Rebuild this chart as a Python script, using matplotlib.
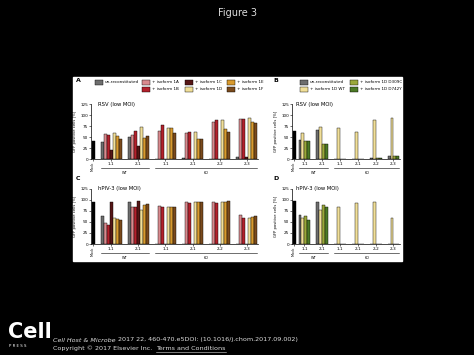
import numpy as np
import matplotlib
matplotlib.use("Agg")
import matplotlib.pyplot as plt
from matplotlib.patches import Rectangle

groups = ["1-1", "2-1", "1-1", "2-1", "2-2", "2-3"]

# panel A / C series (RSV, hPIV-3), per group
series_ac = ["un-reconstituted", "+ isoform 1A", "+ isoform 1B", "+ isoform 1C",
             "+ isoform 1D", "+ isoform 1E", "+ isoform 1F"]
colors_ac = ["#6e6e6e", "#d98a8e", "#b3212c", "#561616", "#f1df98", "#d99a2e", "#7a4a1c"]
mock_a = 40
rsv_a = [
    [38, 49, 1, 2, 1, 5],
    [57, 55, 64, 60, 84, 92],
    [55, 64, 77, 62, 88, 92],
    [21, 30, 0, 0, 0, 4],
    [59, 73, 71, 61, 89, 93],
    [52, 48, 70, 46, 68, 83],
    [46, 52, 59, 46, 61, 81],
]
mock_c = 95
piv_c = [
    [64, 96, 0, 0, 0, 0],
    [48, 83, 87, 96, 95, 67],
    [43, 83, 85, 93, 93, 59],
    [95, 98, 0, 0, 0, 0],
    [58, 78, 84, 95, 95, 58],
    [57, 88, 85, 95, 95, 61],
    [55, 92, 85, 95, 97, 64],
]

# panel B / D series
series_bd = ["un-reconstituted", "+ isoform 1D WT", "+ isoform 1D D309C", "+ isoform 1D D742Y"]
colors_bd = ["#6e6e6e", "#f1df98", "#9aa83a", "#4c7a26"]
mock_b = 64
rsv_b = [
    [44, 67, 0, 1, 2, 7],
    [59, 73, 71, 61, 89, 93],
    [42, 35, 1, 1, 2, 6],
    [41, 33, 1, 1, 2, 6],
]
mock_d = 98
piv_d = [
    [65, 95, 1, 1, 1, 1],
    [58, 78, 83, 94, 95, 58],
    [63, 89, 1, 1, 1, 1],
    [55, 85, 1, 1, 1, 1],
]

W, H = 474, 355
fig = plt.figure(figsize=(4.74, 3.55), dpi=100)
fig.patch.set_facecolor("black")
fig.patches.append(Rectangle((73 / W, 1 - 261 / H), 329 / W, 184 / H,
                             transform=fig.transFigure, color="white", zorder=-10))

fs = 3


def px(x0, y_top, x1, y_bot):
    return [x0 / W, 1 - y_bot / H, (x1 - x0) / W, (y_bot - y_top) / H]


def panel(rect, mock, vals, colors, title, pitch):
    ax = fig.add_axes(rect)
    ax.patch.set_alpha(0)
    nser = len(vals)
    first = 3 if nser == 7 else 2
    ax.bar(0, mock, width=1, color="black", edgecolor="black", linewidth=0.3)
    starts = first + pitch * np.arange(len(groups))
    for i, v in enumerate(vals):
        ax.bar(starts + i, v, width=1, color=colors[i], edgecolor="black", linewidth=0.3)
    centers = starts + (nser - 1) / 2
    ax.set_xlim(-0.7, starts[-1] + nser - 0.3)
    ax.set_ylim(0, 125)
    ax.set_yticks([0, 25, 50, 75, 100, 125])
    ax.set_xticks(np.r_[0, centers])
    ax.set_xticklabels([""] + groups)
    ax.tick_params(labelsize=fs, length=1.2, width=0.4, pad=1)
    ax.text(0, -0.05, "Mock", rotation=90, fontsize=fs - 0.5, ha="center", va="top",
            transform=ax.get_xaxis_transform())
    for s in ["top", "right"]:
        ax.spines[s].set_visible(False)
    for s in ["left", "bottom"]:
        ax.spines[s].set_linewidth(0.5)
    ax.set_ylabel("GFP positive cells [%]", fontsize=fs - 0.3, labelpad=2)
    ax.text(0.04, 1.0, title, fontsize=fs + 0.8, transform=ax.transAxes, va="center")
    tr = ax.get_xaxis_transform()
    wt = (starts[0] - 0.5, starts[1] + nser - 0.5)
    ko = (starts[2] - 0.5, starts[-1] + nser - 0.5)
    for (a, b), lab in [(wt, "WT"), (ko, "KO")]:
        ax.plot([a, b], [-0.17, -0.17], color="black", lw=0.4, transform=tr, clip_on=False)
        ax.text((a + b) / 2, -0.21, lab, fontsize=fs - 0.5, ha="center", va="top", transform=tr)
    return ax


axA = panel(px(91, 104, 258, 159), mock_a, rsv_a, colors_ac, "RSV (low MOI)", 9)
axB = panel(px(292, 104, 400, 159), mock_b, rsv_b, colors_bd, "RSV (low MOI)", 6)
axC = panel(px(91, 189, 258, 244), mock_c, piv_c, colors_ac, "hPIV-3 (low MOI)", 9)
axD = panel(px(292, 189, 400, 244), mock_d, piv_d, colors_bd, "hPIV-3 (low MOI)", 6)

for lab, x, y in [("A", 76, 81), ("B", 273, 81), ("C", 76, 178), ("D", 273, 178)]:
    fig.text(x / W, 1 - y / H, lab, fontsize=4.5, fontweight="bold", va="center")


# legends
def legend_at(labels, colors, positions):
    for lab, c, (x, y) in zip(labels, colors, positions):
        fig.patches.append(Rectangle((x / W, 1 - (y + 2.5) / H), 8 / W, 5 / H,
                                     transform=fig.transFigure, facecolor=c,
                                     edgecolor="black", linewidth=0.3, zorder=2))
        fig.text((x + 10) / W, 1 - y / H, lab, fontsize=fs, va="center")


legend_at(series_ac, colors_ac,
          [(95, 82), (142, 82), (142, 89), (185, 82), (185, 89), (227, 82), (227, 89)])
legend_at(series_bd, colors_bd, [(300, 82), (300, 89), (350, 82), (350, 89)])

# page furniture
fig.text(0.5, 1 - 13 / H, "Figure 3", color="#dddddd", fontsize=7, ha="center", va="center")
fig.text(8 / W, 1 - 332 / H, "Cell", color="white", fontsize=15, fontweight="bold", va="center")
fig.text(9 / W, 1 - 346 / H, "P R E S S", color="white", fontsize=2.8, va="center")

renderer = fig.canvas.get_renderer()
grey = "#dddddd"
t1 = fig.text(53 / W, 1 - 340 / H, "Cell Host & Microbe", color=grey, fontsize=4.6,
              style="italic", va="center")
x1 = t1.get_window_extent(renderer).x1
fig.text(x1 / W, 1 - 340 / H, " 2017 22, 460-470.e5DOI: (10.1016/j.chom.2017.09.002)",
         color=grey, fontsize=4.6, va="center")
t2 = fig.text(53 / W, 1 - 348.5 / H, "Copyright \u00a9 2017 Elsevier Inc. ", color=grey,
              fontsize=4.6, va="center")
x2 = t2.get_window_extent(renderer).x1 + 2
t3 = fig.text(x2 / W, 1 - 348.5 / H, "Terms and Conditions", color=grey, fontsize=4.6,
              va="center")
x3 = t3.get_window_extent(renderer).x1
fig.lines.append(plt.Line2D([x2 / W, x3 / W], [1 - 351.5 / H] * 2, color=grey,
                            lw=0.4, transform=fig.transFigure))

fig.savefig("out.png", dpi=100, facecolor="black")
